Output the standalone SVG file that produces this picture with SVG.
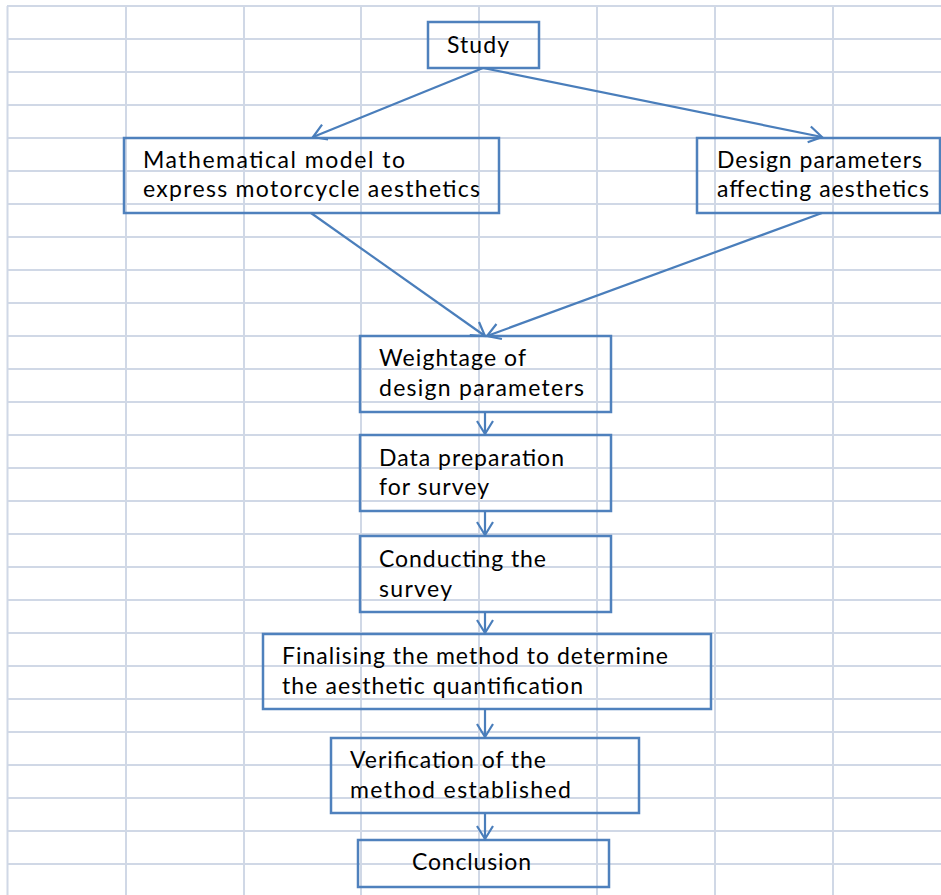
<svg xmlns="http://www.w3.org/2000/svg" width="941" height="895" viewBox="0 0 941 895">
<style>
.grid line{stroke:#d0d8e6;stroke-width:2}
.box{fill:none;stroke:#4f81bd;stroke-width:2.5}
.conn line{stroke:#4a7ebb;stroke-width:2.2;fill:none}
text{font-family:Lato,"Open Sans","Liberation Sans",sans-serif;font-size:23px;fill:#000}
</style>
<defs>
<marker id="ah" markerUnits="userSpaceOnUse" markerWidth="18" markerHeight="20" refX="14" refY="9" orient="auto" viewBox="0 0 18 18">
<path d="M1,1 L14,9 L1,17" fill="none" stroke="#4a7ebb" stroke-width="2.2"/>
</marker>
</defs>
<rect width="941" height="895" fill="#fff"/>
<g class="grid">
<line x1="7.5" y1="6" x2="7.5" y2="895"/>
<line x1="126" y1="6" x2="126" y2="895"/>
<line x1="244" y1="6" x2="244" y2="895"/>
<line x1="361" y1="6" x2="361" y2="895"/>
<line x1="479" y1="6" x2="479" y2="895"/>
<line x1="597" y1="6" x2="597" y2="895"/>
<line x1="715" y1="6" x2="715" y2="895"/>
<line x1="833" y1="6" x2="833" y2="895"/>
<line x1="7" y1="6" x2="941" y2="6"/>
<line x1="7" y1="39" x2="941" y2="39"/>
<line x1="7" y1="72" x2="941" y2="72"/>
<line x1="7" y1="105" x2="941" y2="105"/>
<line x1="7" y1="138" x2="941" y2="138"/>
<line x1="7" y1="171" x2="941" y2="171"/>
<line x1="7" y1="204" x2="941" y2="204"/>
<line x1="7" y1="237" x2="941" y2="237"/>
<line x1="7" y1="270" x2="941" y2="270"/>
<line x1="7" y1="303" x2="941" y2="303"/>
<line x1="7" y1="336" x2="941" y2="336"/>
<line x1="7" y1="369" x2="941" y2="369"/>
<line x1="7" y1="402" x2="941" y2="402"/>
<line x1="7" y1="435" x2="941" y2="435"/>
<line x1="7" y1="468" x2="941" y2="468"/>
<line x1="7" y1="501" x2="941" y2="501"/>
<line x1="7" y1="534" x2="941" y2="534"/>
<line x1="7" y1="567" x2="941" y2="567"/>
<line x1="7" y1="600" x2="941" y2="600"/>
<line x1="7" y1="633" x2="941" y2="633"/>
<line x1="7" y1="666" x2="941" y2="666"/>
<line x1="7" y1="699" x2="941" y2="699"/>
<line x1="7" y1="732" x2="941" y2="732"/>
<line x1="7" y1="765" x2="941" y2="765"/>
<line x1="7" y1="798" x2="941" y2="798"/>
<line x1="7" y1="831" x2="941" y2="831"/>
<line x1="7" y1="864" x2="941" y2="864"/>
</g>
<g id="n-study">
<rect class="box" x="428" y="22" width="111" height="46"/>
<text x="447" y="53" textLength="62">Study</text>
</g>
<g id="n-math">
<rect class="box" x="124" y="138" width="375" height="75"/>
<text x="143" y="168" textLength="262">Mathematical  model to</text>
<text x="143" y="197" textLength="337">express  motorcycle aesthetics</text>
</g>
<g id="n-design">
<rect class="box" x="697" y="138" width="243" height="75"/>
<text x="717" y="168" textLength="205">Design parameters</text>
<text x="717" y="197" textLength="212">affecting aesthetics</text>
</g>
<g id="n-weight">
<rect class="box" x="360" y="336" width="251" height="76"/>
<text x="379" y="366" textLength="147">Weightage of</text>
<text x="379" y="396" textLength="205">design parameters</text>
</g>
<g id="n-data">
<rect class="box" x="360" y="435" width="251" height="76"/>
<text x="379" y="466" textLength="185">Data preparation</text>
<text x="379" y="495" textLength="110">for survey</text>
</g>
<g id="n-conduct">
<rect class="box" x="360" y="536" width="251" height="76"/>
<text x="379" y="567" textLength="167">Conducting the</text>
<text x="379" y="597" textLength="73">survey</text>
</g>
<g id="n-final">
<rect class="box" x="263" y="634" width="448" height="75"/>
<text x="282" y="664" textLength="386">Finalising the method to determine</text>
<text x="282" y="694" textLength="301">the aesthetic quantification</text>
</g>
<g id="n-verify">
<rect class="box" x="331" y="738" width="308" height="75"/>
<text x="350" y="768" textLength="196">Verification of the</text>
<text x="350" y="798" textLength="221">method established</text>
</g>
<g id="n-concl">
<rect class="box" x="358" y="840" width="251" height="47"/>
<text x="412" y="870" textLength="119">Conclusion</text>
</g>
<g class="conn">
<line x1="483" y1="68" x2="313" y2="137" marker-end="url(#ah)"/>
<line x1="483" y1="68" x2="822" y2="137" marker-end="url(#ah)"/>
<line x1="311" y1="213" x2="485" y2="336" marker-end="url(#ah)"/>
<line x1="822" y1="213" x2="487" y2="336" marker-end="url(#ah)"/>
<line x1="485" y1="412" x2="485" y2="434" marker-end="url(#ah)"/>
<line x1="485" y1="511" x2="485" y2="535" marker-end="url(#ah)"/>
<line x1="485" y1="612" x2="485" y2="633" marker-end="url(#ah)"/>
<line x1="485" y1="709" x2="485" y2="737" marker-end="url(#ah)"/>
<line x1="485" y1="813" x2="485" y2="839" marker-end="url(#ah)"/>
</g>
</svg>
